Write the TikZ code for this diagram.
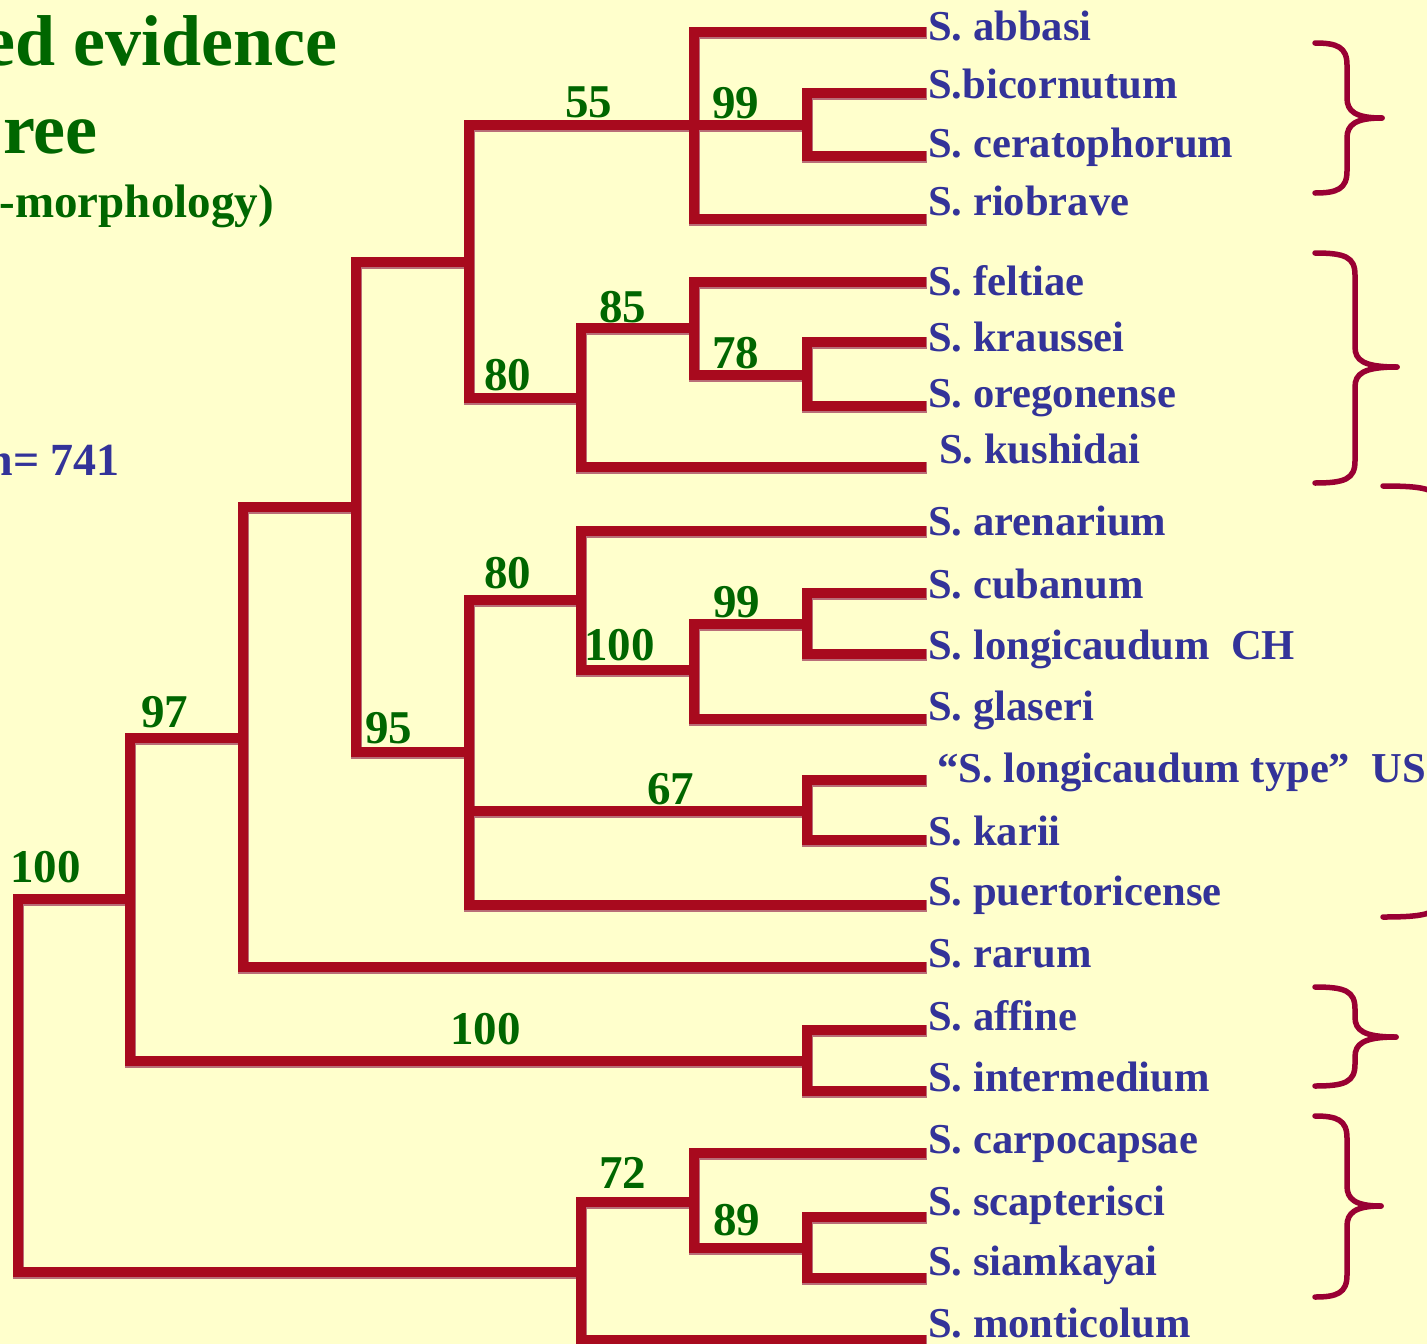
\documentclass[tikz,border=0pt]{standalone}
\usepackage{fontspec}
\setmainfont{Liberation Serif}
\definecolor{bgc}{RGB}{255,255,204}
\definecolor{treered}{RGB}{168,10,30}
\definecolor{treeshadow}{RGB}{185,110,120}
\definecolor{taxblue}{RGB}{51,51,153}
\definecolor{bootgreen}{RGB}{0,102,0}
\definecolor{bracec}{RGB}{153,0,51}
\newcommand\mybrace[6]{%
\draw[bracestyle] (#1,#4) .. controls ({#2-10},#4) and (#2,{#4+4}) .. (#2,{#4+22}) -- (#2,{#5-20}) .. controls (#2,{#5-7}) and ({#2+8},#5) .. (#3,#5);
\draw[bracestyle] (#3,#5) .. controls ({#2+8},#5) and (#2,{#5+7}) .. (#2,{#5+20}) -- (#2,{#6-22}) .. controls (#2,{#6-4}) and ({#2-10},#6) .. (#1,#6);}
\newcommand\treebranches[1]{%
\draw[#1] (A) |- (l2); \draw[#1] (A) |- (l3);
\draw[#1] (B) |- (l1); \draw[#1] (B) -- (A); \draw[#1] (B) |- (l4);
\draw[#1] (C) |- (l6); \draw[#1] (C) |- (l7);
\draw[#1] (D) |- (l5); \draw[#1] (D) |- (C);
\draw[#1] (E) |- (D); \draw[#1] (E) |- (l8);
\draw[#1] (F) |- (B); \draw[#1] (F) |- (E);
\draw[#1] (G) |- (l10); \draw[#1] (G) |- (l11);
\draw[#1] (H) |- (G); \draw[#1] (H) |- (l12);
\draw[#1] (I) |- (l9); \draw[#1] (I) |- (H);
\draw[#1] (J) |- (l13); \draw[#1] (J) |- (l14);
\draw[#1] (K) |- (I); \draw[#1] (K) |- (J); \draw[#1] (K) |- (l15);
\draw[#1] (L) |- (F); \draw[#1] (L) |- (K);
\draw[#1] (M) |- (L); \draw[#1] (M) |- (l16);
\draw[#1] (N) |- (l17); \draw[#1] (N) |- (l18);
\draw[#1] (O) |- (M); \draw[#1] (O) |- (N);
\draw[#1] (P) |- (l20); \draw[#1] (P) |- (l21);
\draw[#1] (Q) |- (l19); \draw[#1] (Q) |- (P);
\draw[#1] (R) |- (Q); \draw[#1] (R) |- (l22);
\draw[#1] (root) |- (O); \draw[#1] (root) |- (R);}
\begin{document}
\begin{tikzpicture}[x=1pt,y=-1pt,
 leaf/.style={anchor=base west,inner sep=0,text=taxblue,font=\bfseries\fontsize{42.6}{50}\selectfont},
 boot/.style={anchor=base west,inner sep=0,text=bootgreen,font=\bfseries\fontsize{47}{56}\selectfont},
 branch/.style={draw=treered,line width=10.5pt},
 branchshadow/.style={draw=treeshadow,line width=11.5pt},
 bracestyle/.style={draw=bracec,line width=5.5pt,line cap=round},
 titlestyle/.style={anchor=base east,inner sep=0,font=\bfseries}]
\fill[bgc] (0,0) rectangle (1427,1344);
\useasboundingbox (0,0) rectangle (1427,1344);

% internal nodes
\coordinate (A) at (807,125);
\coordinate (B) at (694,125);
\coordinate (C) at (807,375);
\coordinate (D) at (694,328);
\coordinate (E) at (581,398);
\coordinate (F) at (469,262);
\coordinate (G) at (807,624);
\coordinate (H) at (694,670);
\coordinate (I) at (581,600);
\coordinate (J) at (807,811);
\coordinate (K) at (469,752);
\coordinate (L) at (356,507);
\coordinate (M) at (243,738);
\coordinate (N) at (807,1061);
\coordinate (O) at (130,899);
\coordinate (P) at (807,1248);
\coordinate (Q) at (694,1202);
\coordinate (R) at (581,1272);
\coordinate (root) at (18,1085);
% leaf ends
\coordinate (l1) at (926,32);
\coordinate (l2) at (926,93);
\coordinate (l3) at (926,156);
\coordinate (l4) at (926,219);
\coordinate (l5) at (926,282);
\coordinate (l6) at (926,342);
\coordinate (l7) at (926,406);
\coordinate (l8) at (926,467);
\coordinate (l9) at (926,531);
\coordinate (l10) at (926,593);
\coordinate (l11) at (926,654);
\coordinate (l12) at (926,719);
\coordinate (l13) at (926,780);
\coordinate (l14) at (926,840);
\coordinate (l15) at (926,905);
\coordinate (l16) at (926,967);
\coordinate (l17) at (926,1030);
\coordinate (l18) at (926,1091);
\coordinate (l19) at (926,1153);
\coordinate (l20) at (926,1217);
\coordinate (l21) at (926,1278);
\coordinate (l22) at (926,1340);

\begin{scope}[transform canvas={shift={(0.6pt,-1.2pt)}}]
\treebranches{branchshadow}
\end{scope}
\treebranches{branch}

% titles
\node[titlestyle,text=bootgreen,font=\bfseries\fontsize{72}{80}\selectfont] (title1) at (338,65) {ed evidence};
\node[titlestyle,text=bootgreen,font=\bfseries\fontsize{72}{80}\selectfont] (title2) at (98,153) {ree};
\node[titlestyle,text=bootgreen,font=\bfseries\fontsize{47}{56}\selectfont] (title3) at (274,217) {-morphology)};
\node[titlestyle,text=taxblue,font=\bfseries\fontsize{46}{54}\selectfont] (nlen) at (120,475) {n= 741};

% leaf labels
\node[leaf] (t1) at (928,40) {S. abbasi};
\node[leaf] (t2) at (928,98) {S.bicornutum};
\node[leaf] (t3) at (928,157) {S. ceratophorum};
\node[leaf] (t4) at (928,215) {S. riobrave};
\node[leaf] (t5) at (928,295) {S. feltiae};
\node[leaf] (t6) at (928,351) {S. kraussei};
\node[leaf] (t7) at (928,407) {S. oregonense};
\node[leaf] (t8) at (939,463) {S. kushidai};
\node[leaf] (t9) at (928,535) {S. arenarium};
\node[leaf] (t10) at (928,598) {S. cubanum};
\node[leaf] (t11) at (928,659) {S. longicaudum\ \ CH};
\node[leaf] (t12) at (928,720) {S. glaseri};
\node[leaf] (t13) at (937,782) {“S. longicaudum type”\ \ US};
\node[leaf] (t14) at (928,845) {S. karii};
\node[leaf] (t15) at (928,905) {S. puertoricense};
\node[leaf] (t16) at (928,967) {S. rarum};
\node[leaf] (t17) at (928,1030) {S. affine};
\node[leaf] (t18) at (928,1091) {S. intermedium};
\node[leaf] (t19) at (928,1153) {S. carpocapsae};
\node[leaf] (t20) at (928,1215) {S. scapterisci};
\node[leaf] (t21) at (928,1275) {S. siamkayai};
\node[leaf] (t22) at (928,1337) {S. monticolum};

% bootstrap values
\node[boot] (b55) at (565,117) {55};
\node[boot] (b99a) at (712,118) {99};
\node[boot] (b85) at (599,322) {85};
\node[boot] (b78) at (712,368) {78};
\node[boot] (b80a) at (484,390) {80};
\node[boot] (b80b) at (484,588) {80};
\node[boot] (b100a) at (584,660) {100};
\node[boot] (b99b) at (713,617) {99};
\node[boot] (b67) at (647,804) {67};
\node[boot] (b95) at (365,743) {95};
\node[boot] (b97) at (141,727) {97};
\node[boot] (b100r) at (10,882) {100};
\node[boot] (b100n) at (450,1044) {100};
\node[boot] (b72) at (599,1188) {72};
\node[boot] (b89) at (713,1235) {89};

% braces
\mybrace{1315}{1347}{1382}{43}{118}{193}
\mybrace{1315}{1355}{1397}{253}{367}{483}
\mybrace{1383}{1440}{1480}{486}{701}{917}
\mybrace{1315}{1355}{1396}{987}{1037}{1086}
\mybrace{1315}{1347}{1381}{1116}{1206}{1297}
\end{tikzpicture}
\end{document}
